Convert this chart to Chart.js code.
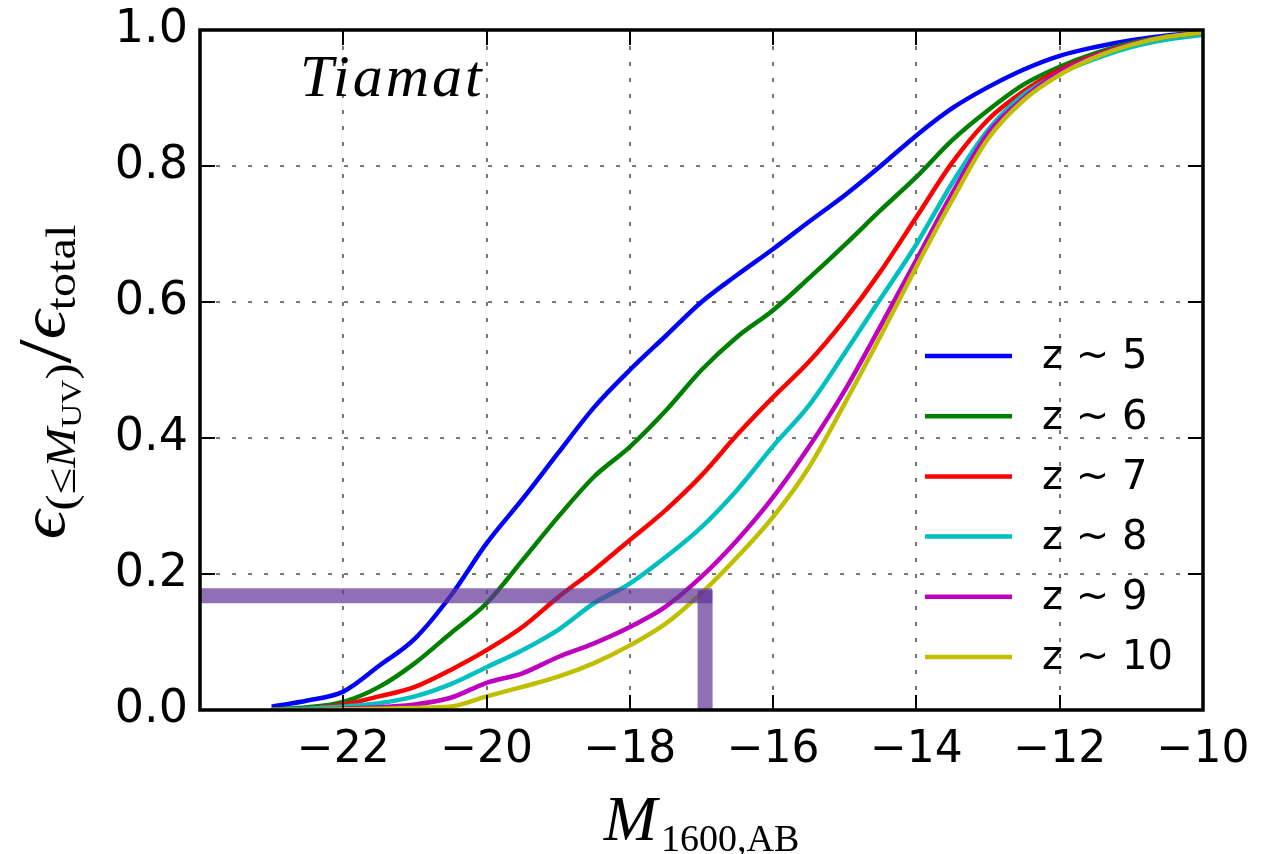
<!DOCTYPE html>
<html>
<head>
<meta charset="utf-8">
<script src="https://cdn.jsdelivr.net/npm/chart.js@4/dist/chart.umd.min.js"></script>
<style>
  body { margin: 0; background: #fff; }
  canvas { display: block; }
</style>
</head>
<body>
<canvas id="chart" width="1283" height="854"></canvas>
<script>
// Absolute UV magnitude grid shared by every curve
const mags = [-23, -22.5, -22, -21.5, -21, -20.5, -20, -19.5, -19, -18.5, -18, -17.5, -17,
    -16.5, -16, -15.5, -15, -14.5, -14, -13.5, -13, -12.5, -12, -11.5, -11, -10.5, -10];

// Cumulative emissivity fraction per redshift
const z5 = [0.005, 0.014, 0.027, 0.065, 0.105, 0.168, 0.245, 0.31, 0.378, 0.445, 0.50, 0.55, 0.60,
    0.64, 0.678, 0.718, 0.757, 0.80, 0.845, 0.885, 0.916, 0.942, 0.962, 0.975, 0.985, 0.992, 0.996];
const z6 = [0.001, 0.004, 0.012, 0.034, 0.069, 0.113, 0.157, 0.22, 0.284, 0.343, 0.387, 0.44, 0.50,
    0.549, 0.588, 0.635, 0.684, 0.735, 0.784, 0.838, 0.882, 0.92, 0.946, 0.966, 0.981, 0.99, 0.995];
const z7 = [0.0, 0.002, 0.008, 0.02, 0.034, 0.059, 0.088, 0.122, 0.166, 0.206, 0.25, 0.294, 0.345,
    0.405, 0.46, 0.512, 0.574, 0.645, 0.725, 0.805, 0.868, 0.91, 0.941, 0.963, 0.979, 0.989, 0.995];
const z8 = [0.0, 0.002, 0.005, 0.01, 0.02, 0.038, 0.063, 0.088, 0.118, 0.157, 0.186, 0.225, 0.269,
    0.324, 0.388, 0.448, 0.525, 0.605, 0.685, 0.775, 0.853, 0.905, 0.936, 0.958, 0.975, 0.986, 0.993];
const z9 = [0.0, 0.0, 0.002, 0.004, 0.008, 0.018, 0.04, 0.054, 0.078, 0.098, 0.122, 0.152, 0.196,
    0.25, 0.313, 0.387, 0.47, 0.565, 0.662, 0.76, 0.848, 0.9, 0.938, 0.962, 0.979, 0.99, 0.996];
const z10 = [0.0, 0.0, 0.001, 0.002, 0.003, 0.005, 0.02, 0.034, 0.049, 0.069, 0.095, 0.127, 0.172,
    0.225, 0.284, 0.357, 0.451, 0.55, 0.652, 0.75, 0.84, 0.897, 0.934, 0.96, 0.978, 0.99, 0.996];

const seriesLabels = ['z ~ 5', 'z ~ 6', 'z ~ 7', 'z ~ 8', 'z ~ 9', 'z ~ 10'];
const seriesValues = [z5, z6, z7, z8, z9, z10];
const seriesColors = ['#0000ff', '#008000', '#ff0000', '#00bfbf', '#bf00bf', '#bfbf00'];

// Highlighted threshold at M = -17
const markH = {x: [-24, -16.85], y: [0.168, 0.168]};
const markV = {x: [-16.95, -16.95], y: [0, 0.176]};

const xTicks = [-22, -20, -18, -16, -14, -12, -10];
const yTicks = [0, 0.2, 0.4, 0.6, 0.8, 1.0];

const sans = "'DejaVu Sans', sans-serif";
const serif = "'Liberation Serif', 'DejaVu Serif', serif";

const toPts = (xs, ys) => xs.map((x, i) => ({x: x, y: ys[i]}));

let datasets = seriesValues.map((vals, i) => ({
    label: seriesLabels[i],
    data: toPts(mags, vals),
    borderColor: seriesColors[i],
    borderWidth: 4.5,
    pointRadius: 0,
    cubicInterpolationMode: 'monotone',
    order: seriesValues.length - i + 1
}));
[markH, markV].forEach(m => datasets.push({
    label: '',
    data: toPts(m.x, m.y),
    borderColor: 'rgba(95,51,149,0.7)',
    borderWidth: 15,
    borderCapStyle: 'butt',
    pointRadius: 0,
    order: 0
}));

function drawPieces(ctx, pieces, x, y, align) {
    let total = 0;
    pieces.forEach(p => { ctx.font = p.font; total += ctx.measureText(p.t).width + (p.gap || 0); });
    let cx = align === 'center' ? x - total / 2 : x;
    ctx.textBaseline = 'alphabetic';
    ctx.textAlign = 'left';
    pieces.forEach(p => {
        ctx.font = p.font;
        ctx.fillText(p.t, cx, y + (p.dy || 0));
        cx += ctx.measureText(p.t).width + (p.gap || 0);
    });
}

const decorations = {
    id: 'decorations',
    afterDraw(chart) {
        const ctx = chart.ctx;
        const a = chart.chartArea;
        const xs = chart.scales.x, ys = chart.scales.y;
        ctx.save();
        ctx.fillStyle = '#000';
        ctx.strokeStyle = '#000';

        // inner ticks on all four sides
        ctx.lineWidth = 2;
        ctx.beginPath();
        xTicks.forEach(v => {
            const px = Math.round(xs.getPixelForValue(v));
            ctx.moveTo(px, a.bottom); ctx.lineTo(px, a.bottom - 15);
            ctx.moveTo(px, a.top); ctx.lineTo(px, a.top + 15);
        });
        yTicks.forEach(v => {
            const py = Math.round(ys.getPixelForValue(v));
            ctx.moveTo(a.left, py); ctx.lineTo(a.left + 15, py);
            ctx.moveTo(a.right, py); ctx.lineTo(a.right - 15, py);
        });
        ctx.stroke();

        // frame
        ctx.lineWidth = 3.5;
        ctx.strokeRect(a.left, a.top, a.right - a.left, a.bottom - a.top);

        // legend inside the plot
        seriesLabels.forEach((lab, i) => {
            const y = 356 + i * 60.2;
            ctx.strokeStyle = seriesColors[i];
            ctx.lineWidth = 4.5;
            ctx.beginPath();
            ctx.moveTo(925, y); ctx.lineTo(1012, y);
            ctx.stroke();
            ctx.font = '40px ' + sans;
            ctx.textBaseline = 'middle';
            ctx.textAlign = 'left';
            ctx.fillText(lab, 1042, y + 2);
        });

        // panel label
        ctx.letterSpacing = '3px';
        drawPieces(ctx, [{t: 'Tiamat', font: 'italic 60px ' + serif}], 300, 96, 'left');
        ctx.letterSpacing = '0px';

        // x-axis title
        drawPieces(ctx, [
            {t: 'M', font: 'italic 64px ' + serif, gap: 4},
            {t: '1600,AB', font: '38px ' + serif, dy: 11}
        ], (a.left + a.right) / 2, 840, 'center');

        // y-axis title
        ctx.translate(64, 382);
        ctx.rotate(-Math.PI / 2);
        ctx.scale(1.15, 1);
        drawPieces(ctx, [
            {t: 'ϵ', font: 'italic 62px ' + serif},
            {t: '(≤', font: '42px ' + serif, dy: 11},
            {t: 'M', font: 'italic 42px ' + serif, dy: 11},
            {t: 'UV', font: '29px ' + serif, dy: 17},
            {t: ')', font: '42px ' + serif, dy: 11},
            {t: '/', font: '76px ' + serif, dy: 6},
            {t: 'ϵ', font: 'italic 62px ' + serif},
            {t: 'total', font: '42px ' + serif, dy: 11}
        ], 0, 0, 'center');
        ctx.restore();
    }
};

new Chart(document.getElementById('chart'), {
    type: 'line',
    data: { datasets: datasets },
    options: {
        responsive: false,
        animation: false,
        layout: { padding: { top: 30, right: 80, left: 0, bottom: 0 } },
        plugins: {
            legend: { display: false },
            tooltip: { enabled: false }
        },
        scales: {
            x: {
                type: 'linear',
                min: -24,
                max: -10,
                afterBuildTicks: scale => { scale.ticks = xTicks.map(v => ({value: v})); },
                afterFit: scale => {
                    scale.height = 144;
                    scale.paddingLeft = 0;
                    scale.paddingRight = 0;
                },
                border: { display: false, dash: [4, 12] },
                grid: {
                    drawTicks: false,
                    color: '#777777',
                    lineWidth: 2
                },
                ticks: {
                    padding: 14,
                    color: '#000',
                    font: { family: sans, size: 44 },
                    callback: v => v < 0 ? '\u2212' + Math.abs(v) : String(v)
                }
            },
            y: {
                min: 0,
                max: 1,
                afterBuildTicks: scale => { scale.ticks = yTicks.map(v => ({value: v})); },
                afterFit: scale => {
                    scale.width = 200;
                    scale.paddingTop = 0;
                    scale.paddingBottom = 0;
                },
                border: { display: false, dash: [4, 12] },
                grid: {
                    drawTicks: false,
                    color: '#777777',
                    lineWidth: 2
                },
                ticks: {
                    padding: 12,
                    color: '#000',
                    font: { family: sans, size: 46 },
                    callback: v => v.toFixed(1)
                }
            }
        }
    },
    plugins: [decorations]
});
</script>
</body>
</html>
